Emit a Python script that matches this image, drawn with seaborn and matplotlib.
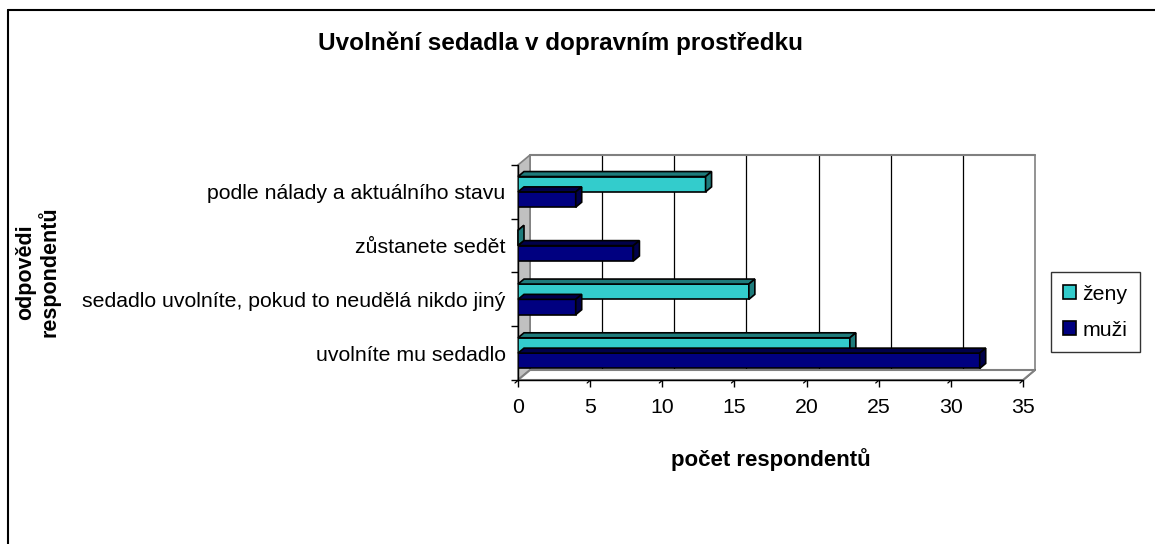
"""
Uvolnění sedadla v dopravním prostředku - horizontal bar chart with an Excel-like 3D look.
"""
import pandas as pd
import matplotlib
matplotlib.use('Agg')
import matplotlib.pyplot as plt
import matplotlib.transforms as mtransforms
from matplotlib.patches import Polygon, Patch
import seaborn as sns

# Data
answers = ['podle nálady a aktuálního stavu',
           'zůstanete sedět',
           'sedadlo uvolníte, pokud to neudělá nikdo jiný',
           'uvolníte mu sedadlo']
zeny = [13, 0, 16, 23]
muzi = [4, 8, 4, 32]
groups = ['ženy', 'muži']
x_ticks = [0, 5, 10, 15, 20, 25, 30, 35]

colors = {'ženy': '#33CCCC', 'muži': '#000080'}
dark = {'ženy': '#1E7B7B', 'muži': '#00004A'}

sns.set_style('white')
plt.rcParams['font.family'] = ['Liberation Sans', 'DejaVu Sans']
plt.rcParams.update({'text.color': 'black', 'axes.labelcolor': 'black',
                     'xtick.color': 'black', 'ytick.color': 'black'})

df = pd.DataFrame({
    'odpoved': answers * 2,
    'pohlavi': ['ženy'] * len(answers) + ['muži'] * len(answers),
    'pocet': zeny + muzi,
})

DPI = 100
fig = plt.figure(figsize=(11.55, 5.44), dpi=DPI)
ax = fig.add_axes([518 / 1155, 1 - 380 / 544, 505 / 1155, 215 / 544])

sns.barplot(data=df, y='odpoved', x='pocet', hue='pohlavi', order=answers,
            hue_order=groups, palette=colors, saturation=1, orient='h', width=0.57,
            edgecolor='black', linewidth=1.2, errorbar=None, ax=ax, legend=False)

ax.set_xlim(x_ticks[0], x_ticks[-1])
ax.set_ylim(len(answers) - 0.5, -0.5)
ax.set_xticks(x_ticks)
ax.set_xticklabels([str(t) for t in x_ticks], fontsize=15.3)
ax.tick_params(axis='x', length=5, width=1, color='black', pad=8, direction='out', bottom=True)
ax.tick_params(axis='y', length=0, labelsize=15.3, pad=9)
ax.set_yticks([i - 0.5 for i in range(len(answers) + 1)], minor=True)
ax.tick_params(axis='y', which='minor', length=5, width=1, color='black', left=True)
for s in ax.spines.values():
    s.set_visible(False)
ax.set_xlabel('počet respondentů', fontsize=16, fontweight='bold', labelpad=22)
ax.set_ylabel('')
ax.patch.set_alpha(0)

# 3D walls (computed from the axes box)
dx, dy = 12, 10
ident = mtransforms.IdentityTransform()
(x0, y0), (x1, y1) = ax.transAxes.transform([(0, 0), (1, 1)])

# back wall gridlines
for t in x_ticks:
    xp = ax.transData.transform((t, 0))[0]
    col = '#808080' if t in (x_ticks[0], x_ticks[-1]) else 'black'
    fig.add_artist(plt.Line2D([xp + dx, xp + dx], [y0 + dy, y1 + dy], transform=ident,
                              color=col, lw=1.2 if col != 'black' else 0.9, zorder=0))
    # floor lines front to back
    fig.add_artist(plt.Line2D([xp - 3, xp + dx], [y0 - 3, y0 + dy], transform=ident,
                              color='black', lw=0.9, zorder=0))
fig.add_artist(plt.Line2D([x0 + dx, x1 + dx], [y1 + dy, y1 + dy], transform=ident,
                          color='#808080', lw=1.5, zorder=0))
# left wall
fig.add_artist(Polygon([(x0, y0), (x0, y1), (x0 + dx, y1 + dy), (x0 + dx, y0 + dy)],
                       closed=True, transform=ident, facecolor='#C0C0C0',
                       edgecolor='#808080', lw=1.2, zorder=0))
# floor
fig.add_artist(Polygon([(x0, y0), (x1, y0), (x1 + dx, y0 + dy), (x0 + dx, y0 + dy)],
                       closed=True, transform=ident, facecolor='white',
                       edgecolor='#808080', lw=1.5, zorder=0))
fig.add_artist(plt.Line2D([x0, x1], [y0, y0], transform=ident, color='black', lw=1, zorder=0))
fig.add_artist(plt.Line2D([x0, x0], [y0, y1], transform=ident, color='black', lw=1, zorder=0))

# 3D faces on each bar
bd, bd2 = 6, 5
for i, rect in enumerate(ax.patches):
    g = groups[i // len(answers)]
    bx, by, bw, bh = rect.get_x(), rect.get_y(), rect.get_width(), rect.get_height()
    (px0, py0), (px1, py1) = ax.transData.transform([(bx, by), (bx + bw, by + bh)])
    xl, xr = min(px0, px1), max(px0, px1)
    yb, yt = min(py0, py1), max(py0, py1)
    top = Polygon([(xl, yt), (xr, yt), (xr + bd, yt + bd2), (xl + bd, yt + bd2)],
                  closed=True, transform=ident, facecolor=dark[g], edgecolor='black', lw=1.2)
    side = Polygon([(xr, yb), (xr, yt), (xr + bd, yt + bd2), (xr + bd, yb + bd2)],
                   closed=True, transform=ident, facecolor=dark[g], edgecolor='black', lw=1.2)
    fig.add_artist(top)
    fig.add_artist(side)

fig.text(561 / 1155, 1 - 43 / 544, 'Uvolnění sedadla v dopravním prostředku',
         ha='center', va='center', fontsize=17.5, fontweight='bold')
fig.text(38 / 1155, 1 - 272 / 544, 'odpovědi\nrespondentů', rotation=90,
         ha='center', va='center', fontsize=15.5, fontweight='bold', linespacing=1.1)

handles = [Patch(facecolor=colors[g], edgecolor='black', lw=1.2) for g in groups]
leg = fig.legend(handles, groups, loc='center left',
                 bbox_to_anchor=(1040 / 1155, 1 - 312 / 544), fontsize=15.3,
                 frameon=True, fancybox=False, shadow=False, handlelength=0.6,
                 handleheight=0.6, handletextpad=0.3, labelspacing=0.8,
                 borderpad=0.6, edgecolor='black')
leg.get_frame().set_linewidth(1)

# outer chart border (only top and left edges are visible in the crop)
fig.add_artist(plt.Line2D([8, 1155], [534, 534], transform=ident, color='black', lw=1.5))
fig.add_artist(plt.Line2D([8, 8], [0, 534], transform=ident, color='black', lw=1.5))

fig.savefig('out.png', dpi=DPI)
